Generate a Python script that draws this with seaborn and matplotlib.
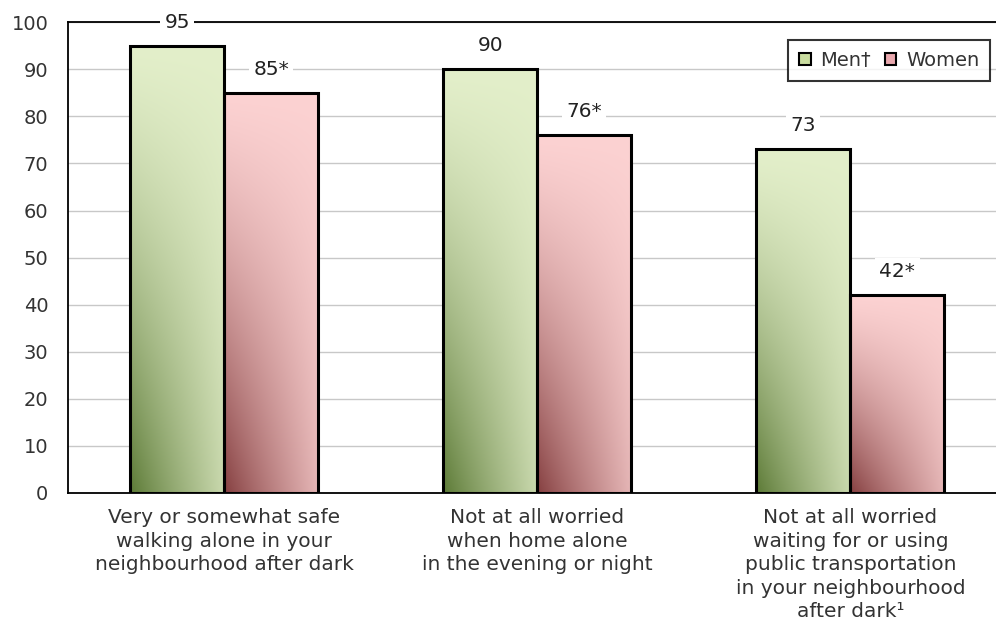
import numpy as np
import pandas as pd
import matplotlib
matplotlib.use('Agg')
import matplotlib.pyplot as plt
import seaborn as sns
from matplotlib.patches import Patch
from matplotlib.colors import to_rgb

# dados
categorias = ["Very or somewhat safe\nwalking alone in your\nneighbourhood after dark",
              "Not at all worried\nwhen home alone\nin the evening or night",
              "Not at all worried\nwaiting for or using\npublic transportation\nin your neighbourhood\nafter dark¹"]
homens = [95, 90, 73]
mulheres = [85, 76, 42]
rotulos_homens = ["95", "90", "73"]
rotulos_mulheres = ["85*", "76*", "42*"]
grupos = ["Men†", "Women"]

df = pd.DataFrame({
    'cat': categorias * 2,
    'valor': homens + mulheres,
    'sexo': [grupos[0]] * 3 + [grupos[1]] * 3,
})

cores_escuras = {"Men†": "#5c7a36", "Women": "#853f40"}
cores_claras = {"Men†": "#e3efca", "Women": "#fcd2d2"}
cores_legenda = {"Men†": "#c9dc9f", "Women": "#e9a8ae"}

sns.set_style('white')
plt.rcParams['font.family'] = ['DejaVu Sans']

fig = plt.figure(figsize=(9.96, 6.26), dpi=100)
ax = fig.add_axes([0.068, 0.2125, 0.943, 0.752])

sns.barplot(data=df, x='cat', y='valor', hue='sexo', palette=cores_legenda,
            width=0.6, edgecolor='black', linewidth=2.2, ax=ax, legend=False,
            zorder=3)

# gradiente em cada barra
nx, ny = 60, 120
xs = np.linspace(0, 1, nx)[None, :]
ys = np.linspace(0, 1, ny)[:, None]
f = 1 - (1 - 0.8 * xs ** 0.9) * (1 - ys) ** 1.3
f = np.clip(f, 0, 1)
barras = [p for p in ax.patches if p.get_height() > 0]
for i, p in enumerate(barras):
    grupo = grupos[0] if i < 3 else grupos[1]
    c0 = np.array(to_rgb(cores_escuras[grupo]))
    c1 = np.array(to_rgb(cores_claras[grupo]))
    img = c0[None, None, :] * (1 - f[..., None]) + c1[None, None, :] * f[..., None]
    x0, y0 = p.get_x(), p.get_y()
    w, h = p.get_width(), p.get_height()
    im = ax.imshow(img, extent=[x0, x0 + w, y0, y0 + h], origin='lower',
                   aspect='auto', zorder=2.5, interpolation='bilinear')
    im.set_clip_path(p)
    p.set_facecolor('none')

# rótulos de valor
rotulos = rotulos_homens + rotulos_mulheres
for i, p in enumerate(barras):
    ax.text(p.get_x() + p.get_width() / 2, p.get_height() + 5, rotulos[i],
            ha='center', va='center', fontsize=14.5, color='#222222', zorder=4,
            bbox=dict(facecolor='white', edgecolor='none', pad=3))

ax.set_xlim(-0.5, 2.5)
ax.set_ylim(0, 100)
ax.set_yticks(range(0, 101, 10))
ax.yaxis.grid(True, color='#c8c8c8', linewidth=1)
ax.set_axisbelow(True)
ax.set_xlabel('')
ax.set_ylabel('')

ax.set_xticks([0, 1, 2])
ax.set_xticklabels(categorias, fontsize=14.5, color='#333333', linespacing=1.3)
ax.set_xticks([-0.5, 0.5, 1.5, 2.5], minor=True)
ax.tick_params(axis='x', which='major', length=0, pad=11)
ax.tick_params(axis='x', which='minor', length=8, width=1.2, direction='out', color='black')
ax.tick_params(axis='y', length=0, pad=14, labelsize=14, labelcolor='#333333')

for lado in ['left', 'bottom', 'top']:
    ax.spines[lado].set_color('black')
    ax.spines[lado].set_linewidth(1.3)
ax.spines['right'].set_visible(False)

handles = [Patch(facecolor=cores_legenda[g], edgecolor='black', linewidth=1.5, label=g)
           for g in grupos]
leg = ax.legend(handles=handles, ncol=2, loc='upper right',
                bbox_to_anchor=((990 - 68) / (1007 - 68), (493 - 40) / 471),
                borderaxespad=0, fontsize=14, frameon=True, fancybox=False,
                handlelength=0.6, handleheight=0.6, handletextpad=0.5,
                columnspacing=0.7, borderpad=0.55, labelcolor='#333333')
leg.get_frame().set_edgecolor('black')
leg.get_frame().set_linewidth(1.5)

fig.savefig('out.png', dpi=100)
